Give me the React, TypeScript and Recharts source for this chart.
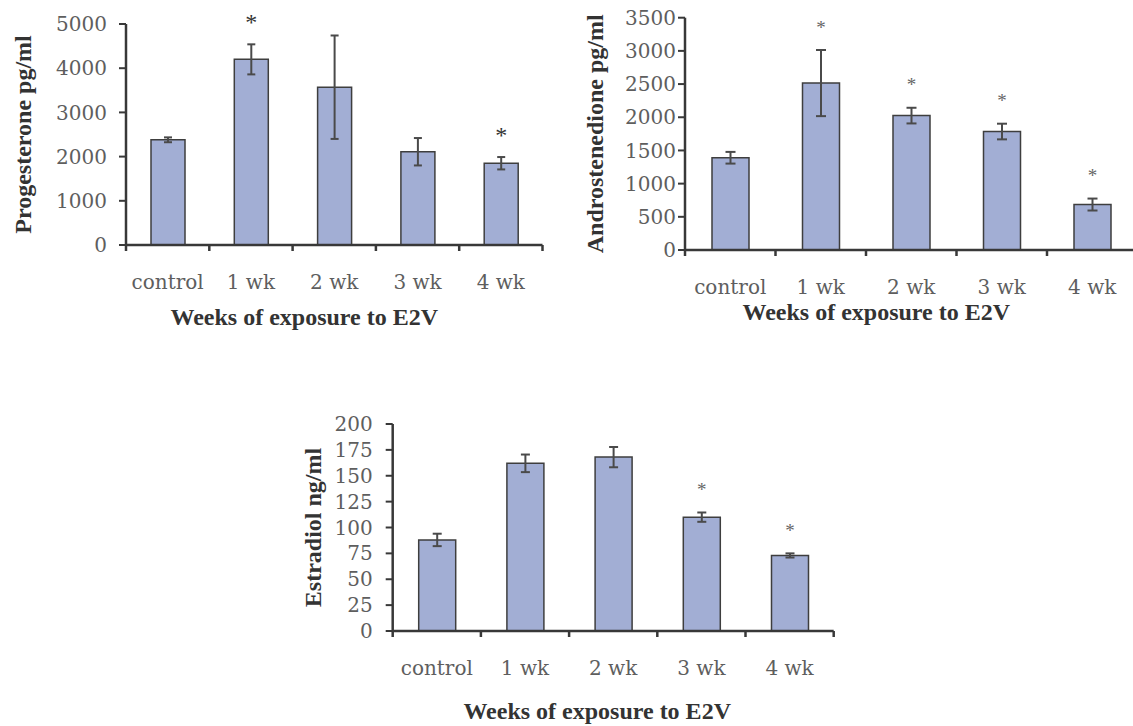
import { BarChart, Bar, XAxis, YAxis, ErrorBar, LabelList, Label } from "recharts";

const CATEGORIES = ["control", "1 wk", "2 wk", "3 wk", "4 wk"];
const X_TITLE = "Weeks of exposure to E2V";

// progesterone (pg/ml)
const PROG_VALUES = [2380, 4200, 3570, 2110, 1850];
const PROG_ERRORS = [55, 340, 1170, 310, 140];
const PROG_SIG = [false, true, false, false, true];
const PROG_TICKS = [0, 1000, 2000, 3000, 4000, 5000];

// androstenedione (pg/ml)
const ANDRO_VALUES = [1390, 2515, 2025, 1785, 685];
const ANDRO_ERRORS = [88, 498, 118, 118, 90];
const ANDRO_SIG = [false, true, true, true, true];
const ANDRO_TICKS = [0, 500, 1000, 1500, 2000, 2500, 3000, 3500];

// estradiol (ng/ml)
const ESTR_VALUES = [88, 162, 168, 110, 73];
const ESTR_ERRORS = [6, 8.5, 9.8, 4.5, 2];
const ESTR_SIG = [false, false, false, true, true];
const ESTR_TICKS = [0, 25, 50, 75, 100, 125, 150, 175, 200];

const FILL = "#a2aed4";
const BAR_STROKE = "#3e3e3e";
const AXIS = "#383838";
const TICK_TEXT = "#5e5e5e";
const TITLE_TEXT = "#333333";
const TICK_FONT = "'DejaVu Serif', serif";
const TITLE_FONT = "'Liberation Serif', 'Times New Roman', serif";
const Y_W = 80;
const X_H = 80;
const STAR_GAP = 25;

function Panel(p: any) {
  const data = CATEGORIES.map((name, i) => ({ name, value: p.values[i], err: p.errors[i] }));
  const band = (p.plotRight - p.plotLeft) / CATEGORIES.length;
  const margin = {
    top: p.plotTop,
    left: p.plotLeft - Y_W,
    right: p.width - p.plotRight,
    bottom: p.height - p.plotBottom - X_H,
  };

  const xTick = (t: any) => {
    const { x, y, payload } = t;
    const i = CATEGORIES.indexOf(payload.value);
    const left = x - band / 2;
    return (
      <g>
        <line x1={left} y1={y} x2={left} y2={y + 6} stroke={AXIS} strokeWidth={2.5} />
        {i === CATEGORIES.length - 1 && (
          <line x1={x + band / 2} y1={y} x2={x + band / 2} y2={y + 6} stroke={AXIS} strokeWidth={2.5} />
        )}
        <text x={x} y={y + p.xLabelDy} textAnchor="middle" dominantBaseline="central"
          fill={TICK_TEXT} fontSize={20} fontFamily={TICK_FONT}>
          {payload.value}
        </text>
      </g>
    );
  };

  const xTitle = () => (
    <text x={(p.plotLeft + p.plotRight) / 2 + p.xTitleDx} y={p.plotBottom + p.xTitleDy}
      textAnchor="middle" dominantBaseline="central" fill={TITLE_TEXT}
      fontSize={24} fontWeight="bold" fontFamily={TITLE_FONT}>
      {X_TITLE}
    </text>
  );

  const yTitle = () => {
    const cy = (p.plotTop + p.plotBottom) / 2;
    return (
      <text x={p.yTitleX} y={cy} transform={`rotate(-90 ${p.yTitleX} ${cy})`}
        textAnchor="middle" dominantBaseline="central" fill={TITLE_TEXT}
        fontSize={24} fontWeight="bold" fontFamily={TITLE_FONT}>
        {p.yTitle}
      </text>
    );
  };

  const star = (s: any) => {
    const vb = s.viewBox ?? s;
    const i = CATEGORIES.indexOf(s.value);
    if (i < 0 || !p.sig[i]) return null;
    const x = Number(vb.x) + Number(vb.width) / 2;
    const perUnit = Math.abs(Number(vb.height)) / p.values[i];
    const top = Math.min(Number(vb.y), Number(vb.y) + Number(vb.height));
    const cy = top - p.errors[i] * perUnit - STAR_GAP;
    return (
      <text key={`star-${i}`} x={x} y={cy + p.starSize * 0.45} textAnchor="middle"
        fontSize={p.starSize} fill={p.starColor} fontFamily={TITLE_FONT}>
        *
      </text>
    );
  };

  return (
    <div style={{ position: "absolute", left: p.left, top: p.top }}>
      <BarChart width={p.width} height={p.height} data={data} margin={margin}>
        <Bar dataKey="value" fill={FILL} stroke={BAR_STROKE} strokeWidth={1.5}
          barSize={p.barSize} isAnimationActive={false}>
          <ErrorBar dataKey="err" width={p.capHalf} stroke="#4a4a4a" strokeWidth={2} />
          <LabelList dataKey="name" content={star} />
        </Bar>
        <XAxis dataKey="name" height={X_H} interval={0} tickLine={false} tickSize={0}
          tickMargin={0} axisLine={{ stroke: AXIS, strokeWidth: 2.5 }} tick={xTick}>
          <Label content={xTitle} />
        </XAxis>
        <YAxis type="number" width={Y_W} domain={[0, p.ticks[p.ticks.length - 1]]}
          ticks={p.ticks} interval={0} tickSize={7} tickMargin={p.yTickMargin}
          axisLine={{ stroke: AXIS, strokeWidth: 2.5 }}
          tickLine={{ stroke: AXIS, strokeWidth: 2 }}
          tick={{ fill: TICK_TEXT, fontSize: 20, fontFamily: TICK_FONT }}>
          <Label content={yTitle} />
        </YAxis>
      </BarChart>
    </div>
  );
}

export default function App() {
  return (
    <div style={{ position: "absolute", left: 0, top: 0, width: 1133, height: 726, overflow: "hidden", background: "#fff" }}>
      <Panel left={0} top={0} width={560} height={340}
        plotLeft={126} plotRight={542.5} plotTop={24} plotBottom={245}
        values={PROG_VALUES} errors={PROG_ERRORS} sig={PROG_SIG} ticks={PROG_TICKS}
        yTitle="Progesterone pg/ml" yTitleX={23} yTickMargin={12}
        barSize={34} capHalf={4} xLabelDy={37} xTitleDy={72} xTitleDx={-30}
        starSize={24} starColor="#333" />
      <Panel left={560} top={0} width={590} height={340}
        plotLeft={125} plotRight={577.5} plotTop={17.7} plotBottom={250}
        values={ANDRO_VALUES} errors={ANDRO_ERRORS} sig={ANDRO_SIG} ticks={ANDRO_TICKS}
        yTitle="Androstenedione pg/ml" yTitleX={35} yTickMargin={2}
        barSize={37} capHalf={5} xLabelDy={37} xTitleDy={62} xTitleDx={-35}
        starSize={19} starColor="#666" />
      <Panel left={290} top={400} width={560} height={326}
        plotLeft={102.7} plotRight={543.7} plotTop={24} plotBottom={231}
        values={ESTR_VALUES} errors={ESTR_ERRORS} sig={ESTR_SIG} ticks={ESTR_TICKS}
        yTitle="Estradiol ng/ml" yTitleX={23} yTickMargin={13}
        barSize={37} capHalf={4.5} xLabelDy={37} xTitleDy={80} xTitleDx={-16}
        starSize={19} starColor="#666" />
    </div>
  );
}
